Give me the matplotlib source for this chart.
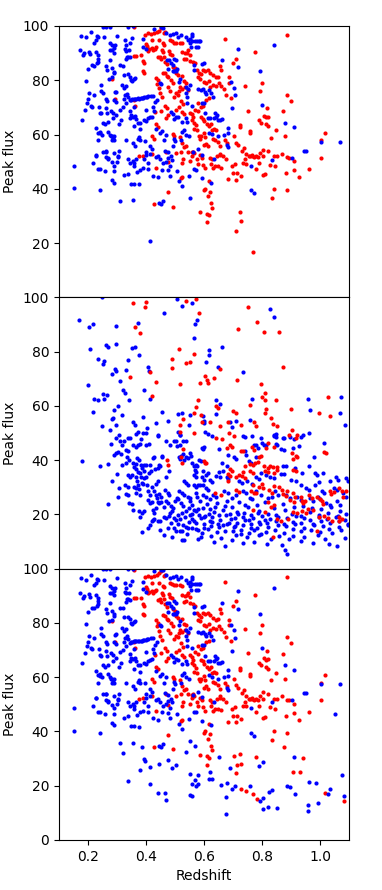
import matplotlib
matplotlib.use("Agg")
import matplotlib.pyplot as plt

# ---------------- data (redshift, peak flux) ----------------
# Panel 1 (also contained in panel 3)
p1_blue = [
    (0.176,96.4),(0.171,91.2),(0.185,90.0),(0.183,89.3),(0.192,96.0),(0.210,97.8),(0.203,90.5),(0.206,89.6),
    (0.222,93.9),(0.226,94.8),(0.231,96.3),(0.236,96.0),(0.229,90.3),(0.233,89.3),(0.236,88.0),(0.199,84.2),
    (0.215,85.6),(0.220,85.4),(0.231,86.3),(0.236,86.9),(0.192,79.6),(0.246,78.3),(0.203,75.2),(0.201,73.0),
    (0.222,74.6),(0.197,71.5),(0.190,69.0),(0.209,70.6),(0.215,70.3),(0.178,65.4),(0.238,70.3),(0.240,68.0),
    (0.246,67.9),(0.229,62.3),(0.233,60.7),(0.240,61.1),(0.236,58.0),(0.254,95.8),(0.252,99.7),(0.262,99.7),
    (0.275,99.7),(0.275,93.6),(0.282,92.9),(0.277,91.2),(0.282,91.2),(0.293,93.0),(0.291,91.8),(0.291,90.2),
    (0.300,96.4),(0.263,85.3),(0.266,83.8),(0.275,87.5),(0.284,84.4),(0.289,83.2),(0.291,82.6),(0.272,80.6),
    (0.282,81.2),(0.245,76.0),(0.252,75.2),(0.263,73.0),(0.266,72.3),(0.293,75.5),(0.298,75.8),(0.289,72.8),
    (0.298,72.1),(0.279,68.8),(0.286,68.1),(0.286,66.0),(0.295,67.2),(0.263,69.7),(0.266,67.9),(0.252,64.4),
    (0.259,63.7),(0.268,64.5),(0.240,60.5),(0.247,59.9),(0.268,61.1),(0.275,59.9),(0.278,59.5),(0.282,59.3),
    (0.286,58.9),(0.290,59.5),(0.282,58.0),(0.289,58.0),(0.307,63.9),(0.314,65.4),(0.311,69.1),(0.321,70.1),
    (0.323,73.0),(0.328,74.6),(0.316,78.3),(0.323,82.0),(0.309,85.6),(0.321,85.4),(0.330,87.7),(0.334,88.7),
    (0.339,88.7),(0.344,88.5),(0.326,94.8),(0.332,93.0),(0.346,93.9),(0.341,91.2),(0.353,95.5),(0.326,91.4),
    (0.332,90.9),(0.337,99.7),(0.355,99.9),(0.339,82.3),(0.344,81.3),(0.348,80.1),(0.353,79.6),(0.357,80.3),
    (0.362,80.7),(0.332,77.9),(0.323,77.0),(0.334,75.0),(0.339,74.0),(0.330,71.5),(0.344,72.7),(0.348,72.8),
    (0.353,73.0),(0.357,73.2),(0.362,73.2),(0.367,73.2),(0.371,73.4),(0.376,73.2),(0.381,73.4),(0.385,73.4),
    (0.390,73.6),(0.394,73.7),(0.399,73.8),(0.404,73.9),(0.408,74.1),(0.417,74.3),(0.424,74.3),(0.359,70.3),
    (0.344,68.5),(0.348,67.2),(0.346,66.0),(0.355,66.6),(0.362,66.9),(0.367,65.9),(0.372,64.4),(0.379,64.4),
    (0.360,63.2),(0.380,62.0),(0.401,69.1),(0.408,66.1),(0.394,65.4),(0.401,64.8),(0.415,66.4),(0.422,66.6),
    (0.431,72.0),(0.438,72.8),(0.424,70.3),(0.426,68.8),(0.436,62.2),(0.397,57.7),(0.376,59.0),(0.371,58.3),
    (0.378,58.0),(0.355,56.8),(0.362,55.6),(0.332,58.0),(0.390,92.4),(0.399,91.4),(0.390,95.1),(0.429,99.0),
    (0.452,99.6),(0.459,99.4),(0.470,97.5),(0.482,96.6),(0.493,97.1),(0.502,97.3),(0.509,96.1),(0.521,96.8),
    (0.537,95.8),(0.546,94.8),(0.553,95.1),(0.560,96.3),(0.557,97.1),(0.560,94.4),(0.569,94.4),(0.576,94.4),
    (0.583,94.4),(0.587,94.4),(0.555,92.1),(0.550,93.6),(0.571,92.1),(0.578,92.1),(0.472,87.5),(0.479,87.5),
    (0.486,86.3),(0.493,85.6),(0.498,88.0),(0.505,87.5),(0.507,84.0),(0.493,83.3),(0.498,83.3),(0.505,83.3),
    (0.516,80.6),(0.514,79.4),(0.475,84.0),(0.447,79.1),(0.452,78.7),(0.564,83.8),(0.566,85.8),(0.594,86.0),
    (0.599,86.3),(0.539,77.4),(0.546,76.7),(0.537,75.2),(0.541,73.7),(0.553,78.2),(0.578,76.7),(0.590,76.4),
    (0.597,76.7),(0.603,75.8),(0.608,75.0),(0.617,76.4),(0.624,75.2),(0.631,73.7),(0.543,71.5),(0.557,70.6),
    (0.486,68.3),(0.493,67.6),(0.502,66.6),(0.509,66.4),(0.495,65.6),(0.525,64.7),(0.539,66.0),(0.541,64.7),
    (0.592,71.8),(0.599,71.8),(0.603,67.9),(0.615,66.0),(0.620,66.0),(0.633,66.0),(0.640,66.6),(0.638,67.9),
    (0.645,67.2),(0.647,65.4),(0.656,65.2),(0.663,65.6),(0.684,62.5),(0.661,87.5),(0.693,79.4),(0.702,77.3),
    (0.707,74.5),(0.698,69.7),(0.716,85.0),(0.718,91.7),(0.794,83.4),(0.800,70.8),(0.840,92.9),(0.879,64.4),
    (0.909,62.8),(0.951,54.0),(1.003,57.4),(1.070,57.4),(0.525,60.8),(0.539,60.0),(0.530,61.7),(0.548,59.3),
    (0.468,60.0),(0.461,58.0),(0.449,60.5),(0.454,61.2),(0.500,57.6),(0.495,58.3),(0.522,58.0),(0.493,55.6),
    (0.617,60.7),(0.628,60.2),(0.649,59.3),(0.668,60.0),(0.684,60.5),(0.679,56.0),(0.682,55.3),(0.578,54.6),
    (0.562,53.4),(0.592,52.6),(0.415,55.6),(0.420,54.6),(0.433,51.7),(0.440,52.1),(0.447,50.9),(0.401,52.4),
    (0.289,53.1),(0.302,51.9),(0.263,51.7),(0.268,51.2),(0.229,52.4),
    (0.151,48.5),(0.153,40.2),(0.217,49.5),(0.229,52.2),(0.233,47.3),(0.243,47.3),(0.241,39.6),(0.259,46.6),
    (0.252,53.7),(0.261,53.9),(0.263,53.7),(0.268,50.8),(0.282,49.8),(0.289,48.5),(0.284,43.1),(0.289,42.2),
    (0.291,46.6),(0.300,50.0),(0.305,51.7),(0.307,53.8),(0.309,35.6),(0.323,45.1),(0.337,45.6),(0.339,51.0),
    (0.344,49.5),(0.349,41.9),(0.360,41.9),(0.377,41.7),(0.354,35.9),(0.355,50.3),(0.360,49.5),(0.364,51.0),
    (0.360,48.3),(0.369,46.1),(0.378,47.1),(0.390,47.6),(0.392,50.8),(0.401,53.7),(0.408,49.5),(0.415,52.9),
    (0.415,20.7),(0.408,47.3),(0.424,44.8),(0.443,44.3),(0.445,34.8),(0.452,34.3),(0.459,35.4),(0.459,49.5),
    (0.468,50.0),(0.475,51.2),(0.456,47.1),(0.477,46.8),(0.482,48.5),(0.487,51.9),(0.489,50.7),(0.466,54.0),
    (0.475,53.5),(0.482,44.8),(0.507,46.6),(0.513,42.7),(0.525,41.0),(0.553,36.5),(0.548,44.6),(0.567,47.3),
    (0.574,47.1),(0.592,44.0),(0.623,42.3),(0.636,50.8),(0.763,39.6),(0.772,38.5),(0.762,48.5),(0.833,50.7),
    (0.905,51.5),(0.946,54.0),
]
p1_red = [
    (0.357,99.5),(0.357,89.0),(0.364,89.0),(0.397,96.8),(0.406,97.3),(0.417,97.1),(0.420,94.8),(0.399,93.4),
    (0.404,92.6),(0.411,91.4),(0.406,90.9),(0.420,91.8),(0.424,91.2),(0.431,91.7),(0.436,92.1),(0.426,97.3),
    (0.438,97.8),(0.445,98.3),(0.452,99.3),(0.461,97.3),(0.466,97.8),(0.390,87.0),(0.392,86.3),(0.388,83.3),
    (0.394,82.8),(0.383,89.2),(0.445,94.8),(0.459,93.6),(0.463,93.1),(0.440,88.5),(0.447,88.7),(0.454,91.2),
    (0.459,90.4),(0.452,87.7),(0.463,88.7),(0.466,86.9),(0.472,86.0),(0.479,90.7),(0.484,89.7),(0.489,89.3),
    (0.482,94.8),(0.491,94.4),(0.498,93.9),(0.505,93.9),(0.516,93.9),(0.523,93.6),(0.525,90.4),(0.534,89.9),
    (0.541,90.2),(0.546,91.2),(0.550,89.4),(0.530,87.7),(0.539,88.0),(0.550,87.2),(0.493,85.0),(0.500,84.5),
    (0.457,82.8),(0.466,82.6),(0.472,81.6),(0.436,80.9),(0.443,80.1),(0.447,75.2),(0.454,73.7),(0.438,78.8),
    (0.445,77.2),(0.477,81.1),(0.486,80.1),(0.493,78.9),(0.477,77.4),(0.484,76.2),(0.502,82.6),(0.511,81.8),
    (0.525,81.6),(0.530,79.6),(0.539,79.1),(0.518,77.4),(0.525,76.7),(0.514,76.2),(0.534,77.4),(0.546,76.4),
    (0.562,86.9),(0.569,86.3),(0.576,83.6),(0.583,82.8),(0.590,82.3),(0.597,83.8),(0.603,83.3),(0.613,83.6),
    (0.620,82.8),(0.580,81.1),(0.587,80.6),(0.601,79.4),(0.608,78.9),(0.617,79.6),(0.631,81.8),(0.640,81.1),
    (0.649,81.3),(0.622,77.4),(0.631,78.2),(0.643,77.9),(0.656,85.3),(0.659,83.6),(0.672,95.1),(0.686,81.1),
    (0.686,79.1),(0.652,78.9),(0.659,77.7),(0.668,76.7),(0.675,74.7),(0.693,73.5),(0.700,86.3),(0.711,88.0),
    (0.741,77.9),(0.776,90.4),(0.800,79.1),(0.794,76.2),(0.885,96.8),(0.887,74.7),(0.901,72.5),(0.817,69.8),
    (0.808,66.9),(0.815,66.4),(0.822,66.6),(0.791,65.2),(0.798,64.4),(0.815,63.9),(0.822,63.2),(0.872,68.6),
    (0.879,59.3),(0.847,61.5),(0.831,58.8),(0.757,60.5),(0.758,61.2),(0.751,68.8),(0.724,62.7),(0.723,63.4),
    (0.672,58.0),(0.679,56.8),(0.702,59.3),(0.711,57.0),(0.718,56.0),(0.730,54.1),(0.739,55.1),(0.757,52.1),
    (0.764,51.9),(0.771,51.7),(0.778,52.0),(0.785,51.6),(0.793,53.1),(0.803,54.4),(0.843,51.9),(0.869,52.9),
    (0.885,51.7),(1.003,58.0),(1.017,60.7),(0.645,51.9),(0.654,52.4),(0.599,60.5),(0.590,59.5),(0.605,59.0),
    (0.567,62.0),(0.576,61.5),(0.557,65.2),(0.567,64.4),(0.574,63.4),(0.550,68.1),(0.557,67.4),(0.562,66.4),
    (0.569,69.1),(0.580,68.6),(0.580,71.6),(0.590,70.3),(0.597,70.6),(0.608,72.8),(0.617,73.3),(0.590,66.4),
    (0.597,65.9),(0.601,64.9),(0.611,63.9),(0.617,63.2),(0.624,63.9),(0.626,61.7),(0.635,62.0),(0.642,61.5),
    (0.583,59.5),(0.587,58.5),(0.631,58.3),(0.638,57.8),(0.647,57.1),(0.601,56.0),(0.608,56.6),(0.615,55.8),
    (0.656,55.6),(0.470,66.1),(0.477,67.1),(0.466,70.6),(0.472,69.8),(0.431,68.3),(0.452,68.8),(0.436,63.9),
    (0.443,62.9),(0.495,74.0),(0.505,75.2),(0.511,74.7),(0.521,72.5),(0.528,71.3),(0.514,70.1),(0.505,69.1),
    (0.523,68.3),(0.532,67.4),(0.362,70.6),(0.357,72.8),(0.292,73.0),(0.284,80.6),(0.420,59.3),(0.427,58.3),
    (0.493,60.2),(0.498,59.3),(0.516,59.0),(0.525,56.8),(0.530,55.3),(0.539,55.6),(0.557,53.4),(0.564,53.1),
    (0.502,53.1),
    (0.376,51.9),(0.390,52.2),(0.420,52.9),(0.428,34.4),(0.436,47.6),(0.475,38.7),(0.493,33.4),(0.470,53.7),
    (0.477,49.8),(0.521,53.7),(0.525,49.5),(0.528,50.9),(0.521,43.8),(0.525,44.2),(0.546,53.7),(0.550,50.3),
    (0.562,53.7),(0.560,52.2),(0.576,50.8),(0.580,49.3),(0.585,52.5),(0.592,51.5),(0.587,31.3),(0.599,39.6),
    (0.603,40.0),(0.597,48.9),(0.603,47.5),(0.609,27.7),(0.611,30.8),(0.616,30.3),(0.613,37.4),(0.617,42.9),
    (0.622,38.9),(0.619,51.5),(0.626,50.8),(0.624,49.3),(0.624,34.6),(0.628,33.1),(0.631,47.5),(0.638,48.3),
    (0.647,48.3),(0.659,47.8),(0.666,51.9),(0.654,53.0),(0.675,50.8),(0.684,43.6),(0.695,48.3),(0.700,45.8),
    (0.707,49.0),(0.709,43.4),(0.714,45.8),(0.711,24.6),(0.725,31.6),(0.728,28.1),(0.728,44.6),(0.734,49.5),
    (0.741,50.9),(0.746,49.2),(0.744,53.0),(0.756,52.0),(0.764,52.5),(0.769,16.8),(0.780,47.3),(0.791,49.5),
    (0.803,51.9),(0.805,44.9),(0.812,45.4),(0.819,53.8),(0.826,48.9),(0.833,36.7),(0.840,40.0),(0.845,48.3),
    (0.852,51.9),(0.883,45.8),(0.887,39.6),(0.892,51.5),(0.909,50.3),(0.909,46.8),(0.928,44.3),(0.962,47.3),
    (1.003,51.5),
]
# Extra points that appear only in panel 3
p3_extra_blue = [
    (0.321,31.9),(0.387,34.3),(0.394,29.9),(0.397,29.2),(0.378,25.7),(0.339,21.8),(0.413,26.9),(0.445,27.9),
    (0.475,29.3),(0.489,26.5),(0.502,27.7),(0.440,17.3),(0.466,17.3),(0.468,14.6),(0.537,32.4),(0.569,34.6),
    (0.551,24.4),(0.578,23.8),(0.569,22.2),(0.578,20.5),(0.560,20.8),(0.571,20.0),(0.551,16.6),(0.560,16.1),
    (1.052,46.4),(0.650,30.4),(0.689,26.6),(0.622,25.0),(0.618,22.6),(0.627,22.3),(0.657,20.3),(0.680,21.0),
    (0.696,18.8),(0.707,19.8),(0.675,15.8),(0.675,9.7),(0.788,27.4),(0.804,28.9),(0.760,19.9),(0.802,15.6),
    (0.792,14.2),(0.802,11.5),(0.820,12.3),(0.825,17.7),(0.834,18.6),(0.852,11.7),(0.887,19.8),(0.898,19.6),
    (0.912,30.4),(0.914,16.8),(0.962,21.5),(0.985,21.0),(0.960,12.9),(0.960,10.7),(0.992,13.6),(1.029,16.8),
    (1.034,18.7),(1.077,23.9),(1.084,16.1),
]
p3_extra_red = [
    (0.940,30.2),(0.907,25.0),(0.930,25.2),(1.018,17.4),(1.082,14.4),(0.728,18.8),(0.744,18.0),(0.783,15.0),
    (0.705,31.1),(0.714,27.7),(0.875,34.2),(0.781,30.5),
]
# Panel 2
p2_blue = [
    (0.249,100.0),(0.507,99.5),(0.169,91.8),(0.203,89.2),(0.217,90.2),(0.206,81.1),(0.236,77.2),(0.252,75.5),
    (0.254,76.7),(0.261,82.5),(0.268,81.8),(0.297,89.4),(0.297,82.8),(0.199,67.6),(0.220,62.7),(0.233,62.2),
    (0.218,57.8),(0.252,64.4),(0.266,63.9),(0.254,62.7),(0.247,52.4),(0.275,51.2),(0.284,71.8),(0.293,73.5),
    (0.298,73.0),(0.291,58.3),(0.286,55.6),(0.282,55.1),(0.296,52.9),(0.305,59.8),(0.316,56.8),(0.311,69.3),
    (0.320,65.9),(0.327,64.7),(0.330,73.3),(0.337,76.9),(0.341,62.0),(0.353,81.3),(0.362,81.6),(0.374,90.4),
    (0.376,78.7),(0.355,54.1),(0.362,53.1),(0.388,56.0),(0.388,49.9),(0.392,65.9),(0.401,49.9),(0.408,74.5),
    (0.410,73.0),(0.413,62.7),(0.403,51.7),(0.436,53.6),(0.443,49.0),(0.454,57.8),(0.461,94.4),(0.475,54.4),
    (0.509,57.1),(0.523,57.3),(0.516,49.4),(0.523,96.8),(0.548,53.1),(0.553,56.6),(0.557,97.8),(0.567,85.0),
    (0.569,90.0),(0.576,91.7),(0.597,56.1),(0.599,53.6),(0.601,54.6),(0.603,50.2),(0.615,49.7),(0.608,76.0),
    (0.617,80.6),(0.617,78.7),(0.640,62.2),(0.654,60.7),(0.643,57.1),(0.649,74.2),(0.661,81.8),(0.689,53.9),
    (0.695,52.1),(0.709,54.4),(0.734,72.5),(0.764,62.7),(0.757,54.8),(0.826,95.6),(0.840,92.6),(0.842,49.2),
    (0.849,48.7),(0.872,48.2),(0.934,48.5),(0.960,62.7),(0.966,58.3),(0.963,49.9),(1.072,63.2),(1.070,57.5),
    (1.086,53.1),
    (0.180,39.8),(0.240,37.8),(0.268,38.5),(0.270,23.8),(0.284,32.2),(0.300,34.9),(0.307,29.7),(0.305,26.5),
    (0.279,45.9),(0.298,48.3),(0.307,49.3),(0.289,42.0),(0.295,42.5),(0.302,43.0),(0.314,42.2),(0.309,47.1),
    (0.318,45.6),(0.325,46.9),(0.337,48.1),(0.346,48.1),(0.318,38.3),(0.332,38.8),(0.334,41.0),(0.341,40.0),
    (0.330,43.7),(0.337,43.2),(0.367,49.6),(0.374,50.5),(0.355,45.6),(0.367,44.7),(0.374,45.6),(0.378,46.1),
    (0.383,47.6),(0.399,45.6),(0.410,46.1),(0.369,40.7),(0.376,40.2),(0.364,38.5),(0.355,38.8),(0.360,37.6),
    (0.367,36.6),(0.374,35.8),(0.378,35.3),(0.383,38.3),(0.392,38.3),(0.401,38.3),(0.387,37.1),(0.394,36.1),
    (0.413,38.3),(0.424,40.7),(0.426,41.2),(0.410,35.1),(0.417,36.1),(0.443,49.3),(0.445,38.3),(0.449,38.0),
    (0.431,36.6),(0.440,37.1),(0.468,47.1),(0.456,41.0),(0.454,41.7),(0.470,33.9),(0.479,36.1),(0.484,45.4),
    (0.498,47.1),(0.502,46.9),(0.509,50.3),(0.516,49.1),(0.507,45.2),(0.516,45.6),(0.528,47.1),(0.537,46.9),
    (0.514,41.0),(0.521,41.7),(0.528,42.2),(0.516,40.5),(0.530,40.0),(0.537,41.2),(0.544,40.7),(0.551,42.5),
    (0.555,41.7),(0.557,38.8),(0.564,38.0),(0.571,38.3),(0.576,37.8),(0.569,36.3),(0.574,35.8),(0.583,40.2),
    (0.590,39.8),(0.594,44.4),(0.601,44.9),(0.337,34.6),(0.344,33.9),(0.353,34.6),(0.364,33.9),(0.383,33.6),
    (0.392,33.4),(0.401,33.6),(0.369,32.2),(0.371,30.9),(0.385,31.6),(0.390,31.2),(0.360,30.2),(0.367,29.7),
    (0.376,29.4),(0.328,30.9),(0.337,30.2),(0.332,27.5),(0.339,27.2),(0.364,27.7),(0.378,27.2),(0.341,24.3),
    (0.353,23.8),(0.355,21.8),(0.376,21.1),(0.385,20.6),(0.380,18.9),(0.394,21.3),(0.408,28.5),(0.415,27.0),
    (0.406,25.3),(0.415,24.1),(0.422,24.5),(0.403,30.7),(0.422,30.2),(0.426,28.7),(0.433,31.2),(0.440,32.2),
    (0.433,27.0),(0.438,26.0),(0.440,24.5),(0.445,24.3),(0.452,24.5),(0.445,27.5),(0.452,26.5),(0.433,22.3),
    (0.424,21.6),(0.429,20.4),(0.426,18.4),(0.415,16.2),(0.408,15.0),(0.387,13.5),(0.419,17.7),(0.424,17.9),
    (0.440,17.4),(0.449,17.7),(0.461,18.9),(0.449,14.2),(0.466,29.1),(0.475,27.7),(0.479,27.2),(0.468,25.0),
    (0.475,24.3),(0.486,23.1),(0.493,22.3),(0.470,18.6),(0.475,15.0),(0.484,20.6),(0.491,21.3),(0.495,18.6),
    (0.505,17.9),(0.486,16.7),(0.495,15.0),(0.507,26.2),(0.511,25.5),(0.514,28.5),(0.525,27.7),(0.532,27.2),
    (0.521,24.3),(0.528,23.1),(0.523,20.6),(0.537,21.1),(0.509,19.6),(0.516,18.4),(0.502,14.0),(0.516,13.7),
    (0.525,13.7),(0.528,16.0),(0.537,15.5),(0.546,15.0),(0.548,17.2),(0.557,18.2),(0.551,19.9),(0.560,20.1),
    (0.548,22.3),(0.553,24.8),(0.560,23.6),(0.544,26.5),(0.551,26.0),(0.571,27.7),(0.576,26.5),(0.564,30.9),
    (0.571,30.2),(0.578,30.9),(0.530,32.2),(0.537,31.6),(0.544,30.9),(0.564,21.8),(0.574,21.1),(0.580,22.1),
    (0.567,17.7),(0.574,16.7),(0.560,15.0),(0.571,14.7),(0.580,14.2),(0.578,10.8),(0.590,11.5),(0.532,10.6),
    (0.525,10.6),(0.587,24.8),(0.590,18.6),(0.597,22.3),(0.599,18.9),(0.601,15.0),(0.567,34.6),(0.574,33.9),
    (0.594,33.9),(0.601,32.6),(0.585,30.9),
    (0.597,44.2),(0.627,48.8),(0.652,44.2),(0.682,42.0),(0.705,41.2),(0.712,40.5),(0.661,39.0),(0.650,35.6),
    (0.666,36.1),(0.680,37.8),(0.735,48.8),(0.740,48.6),(0.765,48.8),(0.774,45.6),(0.781,45.4),(0.786,44.4),
    (0.742,43.2),(0.746,42.0),(0.756,39.5),(0.763,39.0),(0.781,41.2),(0.799,46.4),(0.806,45.6),(0.813,45.4),
    (0.795,48.3),(0.843,48.8),(0.848,49.6),(0.875,48.3),(0.898,48.6),(0.910,47.6),(0.907,44.4),(0.864,44.2),
    (0.877,43.9),(0.848,46.1),(0.852,45.4),(0.928,45.2),(0.942,49.1),(0.981,41.2),(1.015,46.4),(0.873,37.8),
    (0.882,37.8),(0.914,37.1),(0.937,35.3),(0.962,37.8),(0.983,35.1),(0.990,34.6),(1.009,35.3),(1.034,32.2),
    (1.054,33.6),(1.061,32.6),(0.597,36.1),(0.606,34.6),(0.613,35.3),(0.620,32.6),(0.627,31.9),(0.643,34.1),
    (0.654,33.9),(0.680,33.9),(0.684,33.1),(0.719,32.2),(0.730,31.4),(0.749,32.4),(0.767,31.2),(0.781,33.9),
    (0.788,33.1),(0.797,35.1),(0.813,34.4),(0.827,33.9),(0.841,33.4),(0.864,34.8),(0.877,34.8),(0.900,32.6),
    (0.917,32.2),(0.933,30.9),(0.953,29.9),(0.962,28.9),(0.983,30.9),(0.997,31.9),(1.006,28.7),(1.013,27.7),
    (1.050,29.9),(1.059,28.9),(1.080,27.7),(1.089,26.5),(1.091,33.4),(1.096,32.2),(0.597,30.9),(0.606,29.7),
    (0.613,28.9),(0.597,27.2),(0.608,26.5),(0.620,25.5),(0.631,27.2),(0.643,26.5),(0.668,28.5),(0.684,27.7),
    (0.698,26.0),(0.712,27.0),(0.735,28.5),(0.746,27.7),(0.758,26.0),(0.767,25.5),(0.779,28.5),(0.795,27.2),
    (0.820,26.0),(0.834,26.5),(0.845,28.5),(0.854,27.2),(0.884,27.2),(0.898,26.0),(0.919,26.5),(0.933,25.3),
    (0.965,26.0),(0.976,24.8),(0.992,26.5),(0.999,25.5),(1.022,24.3),(1.036,23.3),(1.057,24.8),(1.068,23.6),
    # dense low band
    (0.612,23.9),(0.619,22.1),(0.636,20.8),(0.645,24.1),(0.664,21.7),(0.671,23.0),(0.688,20.3),(0.695,22.9),
    (0.713,21.0),(0.721,24.4),(0.738,20.6),(0.752,22.7),(0.761,19.8),(0.783,23.4),(0.789,21.2),(0.809,24.6),
    (0.819,20.1),(0.842,22.5),(0.849,19.6),(0.871,23.8),(0.881,21.5),(0.902,20.0),(0.911,22.9),(0.934,19.4),
    (0.943,23.1),(0.967,20.7),(0.973,22.4),(0.995,19.9),(1.004,21.9),(1.029,20.5),(1.038,22.6),(1.061,19.3),
    (1.069,21.4),(1.090,20.2),
    (0.602,19.4),(0.621,17.6),(0.628,18.9),(0.648,16.6),(0.656,18.1),(0.676,19.7),(0.686,17.0),(0.707,18.6),
    (0.714,16.8),(0.733,19.2),(0.741,17.9),(0.761,16.4),(0.769,18.8),(0.791,17.3),(0.799,19.5),(0.818,16.9),
    (0.828,18.3),(0.848,17.7),(0.856,19.0),(0.876,16.5),(0.886,18.7),(0.906,17.2),(0.916,19.3),(0.936,16.7),
    (0.946,18.5),(0.966,17.8),(0.976,16.3),(0.998,19.1),(1.005,17.5),(1.025,18.2),(1.035,16.9),(1.055,18.9),
    (1.065,17.4),(1.087,18.0),(1.095,16.6),
    (0.599,16.4),(0.614,14.6),(0.624,15.9),(0.644,13.4),(0.651,15.2),(0.671,14.0),(0.679,16.3),(0.699,13.8),
    (0.707,15.6),(0.726,14.4),(0.734,16.1),(0.754,13.2),(0.762,15.0),(0.782,14.8),(0.792,16.6),(0.814,13.6),
    (0.822,15.4),(0.844,14.2),(0.854,16.0),(0.876,13.3),(0.884,15.8),(0.906,14.5),(0.914,16.5),(0.936,13.9),
    (0.946,15.1),(0.968,14.1),(0.978,16.2),(1.000,13.5),(1.010,15.7),(1.032,14.7),(1.042,13.1),(1.064,15.5),
    (1.074,14.3),(1.096,16.0),
    (0.623,11.9),(0.633,9.8),(0.660,11.2),(0.672,8.5),(0.697,10.4),(0.711,12.3),(0.736,9.3),(0.748,11.6),
    (0.772,10.0),(0.789,12.5),(0.816,9.1),(0.831,11.1),(0.860,12.0),(0.870,8.7),(0.894,10.8),(0.907,12.2),
    (0.933,10.2),(0.946,11.7),(0.975,9.5),(0.992,12.4),(1.018,10.9),(1.031,9.2),(1.058,8.3),(1.085,11.4),
    (0.880,6.9),(0.887,5.4),
    (0.616,20.3),(0.627,17.1),(0.639,22.6),(0.652,19.6),(0.667,16.0),(0.679,24.9),(0.692,18.3),(0.703,15.2),
    (0.718,20.1),(0.727,12.9),(0.743,23.6),(0.756,18.0),(0.774,14.1),(0.786,20.5),(0.797,12.7),(0.812,17.9),
    (0.461,22.8),(0.478,19.4),(0.499,24.9),(0.512,16.4),(0.534,19.0),(0.543,12.6),(0.583,19.9),(0.594,13.1),
    (0.463,12.4),(0.489,11.8),
]
p2_red = [
    (0.355,97.8),(0.397,96.6),(0.399,98.3),(0.362,89.2),(0.378,87.0),(0.344,70.8),(0.415,72.5),(0.433,68.8),
    (0.422,63.7),(0.489,77.2),(0.489,74.0),(0.513,80.9),(0.518,68.1),(0.537,98.5),(0.571,99.3),(0.539,75.7),
    (0.553,76.0),(0.567,79.1),(0.583,94.1),(0.585,68.3),(0.603,71.0),(0.611,69.6),(0.613,68.3),(0.636,70.1),
    (0.654,73.5),(0.714,69.6),(0.716,88.5),(0.753,96.6),(0.783,90.9),(0.806,87.2),(0.859,87.2),(0.871,74.5),
    (0.798,68.1),(0.812,64.9),(0.799,63.2),(0.809,62.2),(0.847,62.0),(0.759,60.2),(0.571,59.5),(0.564,57.5),
    (0.580,62.2),(0.516,53.1),(0.528,55.3),(0.590,56.6),(0.592,54.1),(0.620,54.1),(0.640,59.8),(0.647,59.3),
    (0.656,52.4),(0.700,58.0),(0.709,57.3),(0.684,53.9),(0.728,52.9),(0.774,54.1),(0.780,52.6),(0.815,59.0),
    (0.812,57.3),(0.831,55.6),(0.838,53.4),(0.852,52.6),(0.901,59.0),(0.905,51.2),(0.998,57.5),(1.028,63.4),
    (1.036,56.1),
    (0.567,50.1),(0.528,44.2),(0.521,41.0),(0.523,38.8),(0.472,40.0),(0.477,38.3),(0.516,50.5),(0.599,39.8),
    (0.603,38.8),
    (0.643,48.1),(0.661,47.6),(0.687,50.0),(0.703,48.8),(0.689,45.6),(0.680,44.4),(0.696,44.9),(0.608,39.0),
    (0.726,43.2),(0.735,43.2),(0.767,44.9),(0.772,43.7),(0.788,41.0),(0.797,41.7),(0.815,44.4),(0.822,46.4),
    (0.843,44.9),(0.740,38.0),(0.758,38.5),(0.769,38.3),(0.776,38.8),(0.786,39.3),(0.808,37.8),(0.820,37.1),
    (0.827,37.8),(0.838,37.5),(0.850,37.3),(0.684,34.8),(0.689,34.1),(0.684,32.2),(0.719,34.6),(0.730,34.1),
    (0.740,33.4),(0.758,36.1),(0.769,35.3),(0.811,36.1),(0.822,35.6),(0.841,35.3),(0.852,36.3),(0.907,36.3),
    (0.917,36.0),(0.907,40.5),(0.921,41.2),(0.903,42.7),(0.917,41.7),(0.894,49.1),(0.917,48.1),(0.921,49.1),
    (1.013,42.9),(1.020,42.7),(0.638,27.7),(0.657,27.2),(0.712,28.9),(0.719,28.2),(0.763,28.5),(0.772,27.7),
    (0.781,28.0),(0.769,30.9),(0.788,30.2),(0.799,31.2),(0.804,29.7),(0.825,28.9),(0.836,27.7),(0.841,30.4),
    (0.857,30.2),(0.868,28.9),(0.873,27.5),(0.884,26.7),(0.907,27.7),(0.914,26.5),(0.933,26.5),(0.937,24.8),
    (0.942,24.3),(0.949,25.0),(0.962,27.2),(0.972,26.2),(0.988,26.5),(0.999,25.8),(1.006,25.0),(1.011,23.8),
    (1.034,28.5),(1.038,27.5),(1.048,28.2),(1.064,29.7),(1.075,28.7),(1.080,26.5),(1.091,28.5),(0.822,24.5),
    (0.831,22.8),(0.841,23.6),(0.896,25.3),(0.910,24.5),(0.907,20.9),(0.921,20.6),(0.937,21.1),(0.951,20.4),
    (0.960,22.1),(0.976,21.6),(0.997,18.9),(1.013,19.4),(1.027,18.6),(1.043,17.6),(1.064,17.6),(1.077,18.4),
    (1.066,18.9),(0.988,13.7),(0.838,11.5),(0.866,17.4),(0.889,18.4),(0.769,21.8),(0.850,18.2),(0.811,20.9),
    (0.887,28.5),(0.689,36.8),(0.698,36.1),(0.712,33.9),(0.735,35.8),
]

y_ticks_upper = [20, 40, 60, 80, 100]
y_ticks_bottom = [0, 20, 40, 60, 80, 100]
x_ticks = [0.2, 0.4, 0.6, 0.8, 1.0]


def xy(points):
    return [p[0] for p in points], [p[1] for p in points]


# ---------------- figure ----------------
fig = plt.figure(figsize=(3.82, 8.9), dpi=100)
gs = fig.add_gridspec(3, 1, left=0.1545, right=0.9136, top=0.9708, bottom=0.0562, hspace=0)
axes = [fig.add_subplot(gs[i]) for i in range(3)]

S = 9
panels = [
    (p1_blue, p1_red, False),
    (p2_blue, p2_red, True),
    (p1_blue + p3_extra_blue, p1_red + p3_extra_red, False),
]
for ax, (blue, red, red_on_top) in zip(axes, panels):
    bx, by = xy(blue)
    rx, ry = xy(red)
    if red_on_top:
        ax.scatter(bx, by, s=S, c="blue", linewidths=0)
        ax.scatter(rx, ry, s=S, c="red", linewidths=0)
    else:
        ax.scatter(rx, ry, s=S, c="red", linewidths=0)
        ax.scatter(bx, by, s=S, c="blue", linewidths=0)
    ax.set_xlim(0.1, 1.1)
    ax.set_ylim(0, 100)
    ax.set_ylabel("Peak flux")

for ax in axes[:2]:
    ax.set_yticks(y_ticks_upper)
    ax.set_xticks(x_ticks)
    ax.tick_params(axis="x", bottom=False, labelbottom=False)
axes[2].set_yticks(y_ticks_bottom)
axes[2].set_xticks(x_ticks)
axes[2].set_xticklabels([f"{v:.1f}" for v in x_ticks])
axes[2].set_xlabel("Redshift")

fig.savefig("out.png", dpi=100)
